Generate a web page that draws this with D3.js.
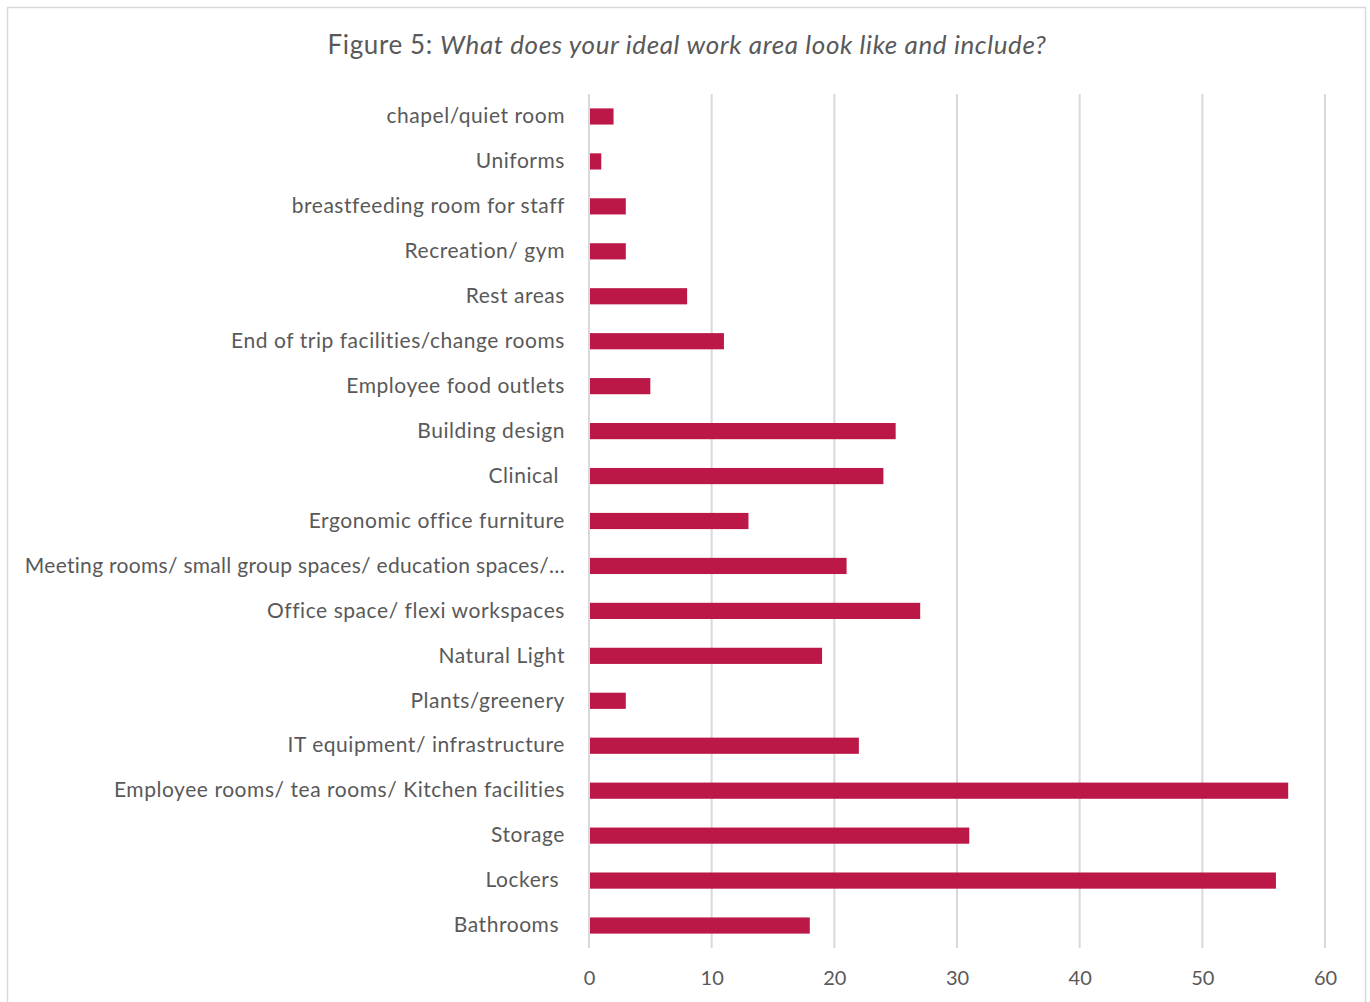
<!DOCTYPE html>
<html>
<head>
<meta charset="utf-8">
<script src="https://cdn.jsdelivr.net/npm/d3@7"></script>
<style>
  body { margin: 0; background: #fff; }
  text { font-family: Lato, "Open Sans", sans-serif; fill: #595959; }
</style>
</head>
<body>
<div id="chart"></div>
<script>
// Categories, top to bottom as shown in the picture
const categories = [
    "chapel/quiet room",
    "Uniforms",
    "breastfeeding room for staff",
    "Recreation/ gym",
    "Rest areas",
    "End of trip facilities/change rooms",
    "Employee food outlets",
    "Building design",
    "Clinical ",
    "Ergonomic office furniture",
    "Meeting rooms/ small group spaces/ education spaces/\u2026",
    "Office space/ flexi workspaces",
    "Natural Light",
    "Plants/greenery",
    "IT equipment/ infrastructure",
    "Employee rooms/ tea rooms/ Kitchen facilities",
    "Storage",
    "Lockers ",
    "Bathrooms "
];
const counts = [2, 1, 3, 3, 8, 11, 5, 25, 24, 13, 21, 27, 19, 3, 22, 57, 31, 56, 18];
const xTicks = [0, 10, 20, 30, 40, 50, 60];

const W = 1370, H = 1002;
const margin = { top: 94, right: 45, bottom: 54, left: 589 };
const width = W - margin.left - margin.right;     // 0..60 spans 589..1325
const height = H - margin.top - margin.bottom;

const data = categories.map((c, i) => ({ name: c, value: counts[i] }));

const svg = d3.select("#chart")
    .append("svg")
    .attr("width", W)
    .attr("height", H);

// outer frame
svg.append("rect")
    .attr("x", 7.5).attr("y", 7.5)
    .attr("width", 1358).attr("height", 1000)
    .attr("fill", "none")
    .attr("stroke", "#d9d9d9")
    .attr("stroke-width", 1.5);

// title
const title = svg.append("text")
    .attr("x", 687)
    .attr("y", 54)
    .attr("text-anchor", "middle")
    .style("font-size", "26px")
    .style("letter-spacing", "0.6px");
title.append("tspan").text("Figure 5: ");
title.append("tspan").style("font-style", "italic").text("What does your ideal work area look like and include?");

const g = svg.append("g")
    .attr("transform", `translate(${margin.left}, ${margin.top})`);

const x = d3.scaleLinear()
    .domain([0, 60])
    .range([0, width]);

const y = d3.scaleBand()
    .domain(categories)
    .range([0, height])
    .paddingInner(0.64)
    .paddingOuter(0.32);

// vertical gridlines
g.append("g")
    .selectAll("line")
    .data(xTicks)
    .join("line")
    .attr("x1", d => x(d)).attr("x2", d => x(d))
    .attr("y1", 0).attr("y2", height)
    .attr("stroke", "#d9d9d9")
    .attr("stroke-width", 2);

// x axis labels
const xAxis = g.append("g")
    .attr("transform", `translate(0, ${height})`)
    .call(d3.axisBottom(x).tickValues(xTicks).tickSize(0).tickPadding(23));
xAxis.select(".domain").remove();
xAxis.selectAll("text")
    .style("font-size", "20px")
    .style("font-family", "Lato, 'Open Sans', sans-serif")
    .attr("fill", "#595959");

// y axis labels
const yAxis = g.append("g")
    .call(d3.axisLeft(y).tickSize(0).tickPadding(24));
yAxis.select(".domain").remove();
yAxis.selectAll("text")
    .style("font-size", "21px")
    .style("letter-spacing", d => d.length > 50 ? "0.3px" : "0.55px")   // long truncated label is set tighter
    .style("font-family", "Lato, 'Open Sans', sans-serif")
    .style("white-space", "pre")
    .attr("fill", "#595959");

// bars
g.append("g")
    .selectAll("rect")
    .data(data)
    .join("rect")
    .attr("x", x(0) + 1)
    .attr("y", d => y(d.name))
    .attr("width", d => x(d.value) - x(0) - 1)
    .attr("height", y.bandwidth())
    .attr("fill", "#bb1847");
</script>
</body>
</html>
